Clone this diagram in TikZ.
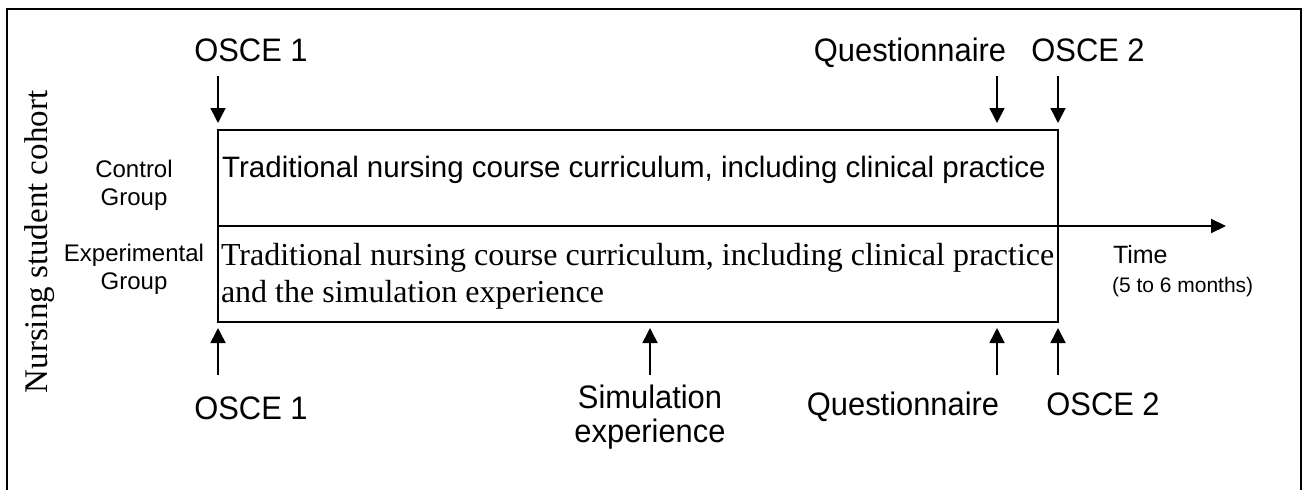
\documentclass[tikz,border=0pt]{standalone}
\usepackage{fontspec}
\setmainfont{Liberation Serif}
\newfontfamily\arialfont{Liberation Sans}
\newfontfamily\labelfont[FakeStretch=0.95]{Liberation Sans}
\usetikzlibrary{arrows.meta}
\begin{document}
\begin{tikzpicture}[x=1pt,y=-1pt,
  every node/.style={inner sep=0pt,outer sep=0pt},
  lbl/.style={font=\labelfont\fontsize{32.5}{34}\selectfont,align=center,anchor=base},
  grp/.style={font=\arialfont\fontsize{24}{28.5}\selectfont,align=center,anchor=north},
  phase/.style={draw,line width=2pt,minimum width=840pt,minimum height=96pt},
  evarrow/.style={-{Triangle[length=15pt,width=15pt]},line width=1.6pt},
  axis/.style={-{Triangle[length=15pt,width=14pt]},line width=2pt}]
\useasboundingbox (0,0) rectangle (1305,490);
% open frame
\draw[line width=2pt] (7,490) -- (7,9) -- (1301,9) -- (1301,490);

% the two study arms
\node[phase] (ctrl) at (638,178) {};
\node[phase] (exp) at (638,274) {};
\node[font=\arialfont\fontsize{29.5}{32}\selectfont,anchor=base] (ctrltxt) at (634,177)
  {Traditional nursing course curriculum, including clinical practice};
\node[font=\fontsize{32}{37}\selectfont,align=left,anchor=north west] (exptxt) at (221,243)
  {Traditional nursing course curriculum, including clinical practice\\and the simulation experience};

% time axis
\coordinate (tstart) at (218,226);
\coordinate (tend) at (1226,226);
\draw[axis] (tstart) -- (tend);
\node[font=\arialfont\fontsize{25}{28}\selectfont,anchor=base west] (time) at (1113,263) {Time};
\node[font=\arialfont\fontsize{21}{24}\selectfont,anchor=base west] (months) at (1112,292) {(5 to 6 months)};

% group labels and cohort
\node[grp] (cg) at (134,160) {Control\\Group};
\node[grp] (eg) at (134,244) {Experimental\\Group};
\node[font=\fontsize{33}{36}\selectfont,rotate=90] (cohort) at (40,242) {Nursing student cohort};

% top assessments (control arm)
\node[lbl] (o1t) at (251,61) {OSCE 1};
\node[lbl] (qt) at (910,61) {Questionnaire};
\node[lbl] (o2t) at (1088,61) {OSCE 2};
\coordinate (a1s) at (218,76);  \coordinate (a1e) at (218,123);
\coordinate (a2s) at (997,76);  \coordinate (a2e) at (997,123);
\coordinate (a3s) at (1058,76); \coordinate (a3e) at (1058,123);
\draw[evarrow] (a1s) -- (a1e);
\draw[evarrow] (a2s) -- (a2e);
\draw[evarrow] (a3s) -- (a3e);

% bottom assessments (experimental arm)
\node[lbl] (o1b) at (251,419) {OSCE 1};
\node[lbl,anchor=north] (sim) at (650,385) {Simulation\\experience};
\node[lbl] (qb) at (903,415) {Questionnaire};
\node[lbl] (o2b) at (1103,415) {OSCE 2};
\coordinate (b1s) at (218,375);  \coordinate (b1e) at (218,328);
\coordinate (b2s) at (650,375);  \coordinate (b2e) at (650,328);
\coordinate (b3s) at (997,375);  \coordinate (b3e) at (997,328);
\coordinate (b4s) at (1058,375); \coordinate (b4e) at (1058,328);
\draw[evarrow] (b1s) -- (b1e);
\draw[evarrow] (b2s) -- (b2e);
\draw[evarrow] (b3s) -- (b3e);
\draw[evarrow] (b4s) -- (b4e);
\end{tikzpicture}
\end{document}
